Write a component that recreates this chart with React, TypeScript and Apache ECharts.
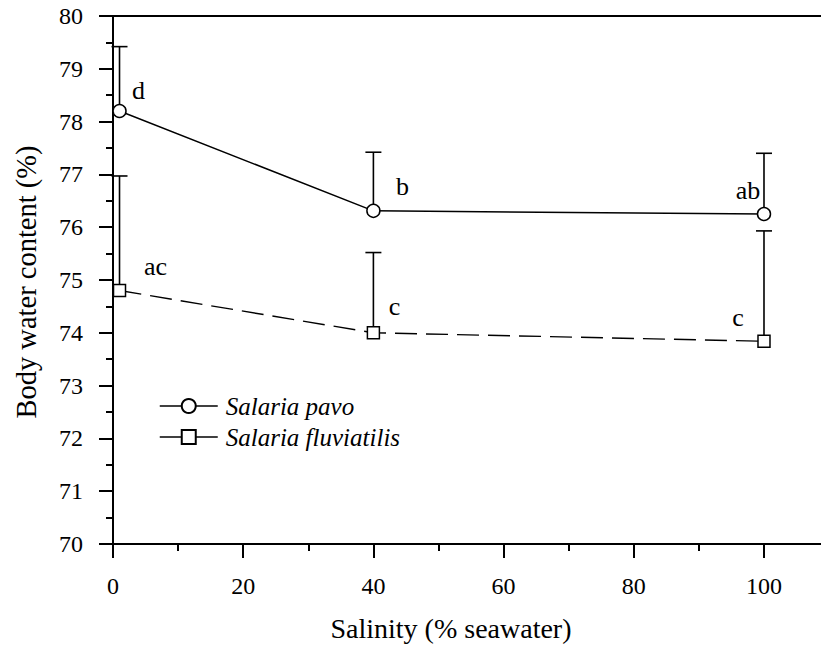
import React, { useEffect, useRef } from 'react';
import * as echarts from 'echarts';

const salinity = [1, 40, 100];
const pavoMean = [78.2, 76.31, 76.25];
const pavoUpper = [79.42, 77.42, 77.4];
const fluvMean = [74.8, 74.0, 73.84];
const fluvUpper = [76.97, 75.52, 75.93];
const pavoLetters = ['d', 'b', 'ab'];
const fluvLetters = ['ac', 'c', 'c'];
const seriesNames = ['Salaria pavo', 'Salaria fluviatilis'];
const xMajorTicks = [0, 20, 40, 60, 80, 100];
const xMinorTicks = [10, 30, 50, 70, 90];
const X_MAX = 110.6;
const xTitle = 'Salinity (% seawater)';
const yTitle = 'Body water content (%)';

const pavoOffsets = [[19, -21], [29, -24], [-16, -24]];
const fluvOffsets = [[36, -24], [21, -26], [-26, -24]];

const FONT = 'Liberation Serif, DejaVu Serif, Times New Roman, serif';

export default function App() {
  const ref = useRef<HTMLDivElement>(null);
  useEffect(() => {
    if (!ref.current) return;
    const chart = echarts.init(ref.current, undefined, { renderer: 'svg' });

    const mkLine = (means: number[], letters: string[], offsets: number[][]) =>
      salinity.map((x, i) => ({
        value: [x, means[i]],
        label: {
          show: true,
          formatter: letters[i],
          position: 'inside',
          offset: offsets[i],
          fontFamily: FONT,
          fontSize: 26,
          color: '#000',
        },
      }));

    const errData = (means: number[], upper: number[]) => salinity.map((x, i) => [x, means[i], upper[i]]);

    const errRender = (params: any, api: any) => {
      const x = api.value(0);
      const lo = api.coord([x, api.value(1)]);
      const hi = api.coord([x, api.value(2)]);
      const st = { stroke: '#000', lineWidth: 1.6 };
      return {
        type: 'group',
        children: [
          { type: 'line', shape: { x1: lo[0], y1: lo[1], x2: hi[0], y2: hi[1] }, style: st },
          { type: 'line', shape: { x1: hi[0] - 8, y1: hi[1], x2: hi[0] + 8, y2: hi[1] }, style: st },
        ],
      };
    };

    const axisLineStyle = { color: '#000', width: 2 };

    chart.setOption({
      animation: false,
      backgroundColor: '#fff',
      textStyle: { fontFamily: FONT },
      grid: {
        left: 113,
        top: 16,
        width: 720,
        bottom: 111,
        containLabel: false,
        outerBoundsMode: 'none',
      },
      legend: {
        orient: 'vertical',
        left: 154,
        top: 388.5,
        itemWidth: 58,
        itemHeight: 17.5,
        itemGap: 6,
        data: seriesNames,
        lineStyle: { type: 'solid', width: 1.5 },
        textStyle: {
          fontFamily: FONT,
          fontStyle: 'italic',
          fontSize: 25,
          lineHeight: 25,
          color: '#000',
          padding: [0, 0, 0, 3],
        },
      },
      xAxis: [
        {
          type: 'value',
          min: 0,
          max: X_MAX,
          position: 'bottom',
          axisLine: { onZero: false, lineStyle: axisLineStyle },
          axisTick: { length: 14, lineStyle: axisLineStyle, customValues: xMajorTicks },
          axisLabel: {
            margin: 30,
            fontFamily: FONT,
            fontSize: 24,
            color: '#000',
            customValues: xMajorTicks,
          },
          splitLine: { show: false },
        },
        {
          type: 'value',
          min: 0,
          max: X_MAX,
          position: 'bottom',
          axisLine: { show: false, onZero: false },
          axisTick: { length: 7, lineStyle: axisLineStyle, customValues: xMinorTicks },
          axisLabel: { show: false },
          splitLine: { show: false },
        },
        {
          type: 'value',
          min: 0,
          max: X_MAX,
          position: 'top',
          axisLine: { onZero: false, lineStyle: axisLineStyle },
          axisTick: { show: false },
          axisLabel: { show: false },
          splitLine: { show: false },
        },
      ],
      yAxis: [
        {
          type: 'value',
          min: 70,
          max: 80,
          interval: 1,
          position: 'left',
          axisLine: { show: true, onZero: false, lineStyle: axisLineStyle },
          axisTick: { show: true, length: 14, lineStyle: axisLineStyle },
          axisLabel: { margin: 30, fontFamily: FONT, fontSize: 24, color: '#000' },
          splitLine: { show: false },
        },
        {
          type: 'value',
          min: 70,
          max: 80,
          interval: 0.5,
          position: 'left',
          axisLine: { show: false, onZero: false },
          axisTick: { show: true, length: 7, lineStyle: axisLineStyle },
          axisLabel: { show: false },
          splitLine: { show: false },
        },
      ],
      graphic: [
        {
          type: 'rect',
          z: 100,
          shape: { x: 806, y: 546, width: 15, height: 20 },
          style: { fill: '#fff' },
        },
        {
          type: 'text',
          x: 451,
          y: 628,
          style: {
            text: xTitle,
            fontFamily: FONT,
            fontSize: 28,
            fill: '#000',
            align: 'center',
            verticalAlign: 'middle',
          },
        },
        {
          type: 'text',
          x: 26.5,
          y: 282,
          rotation: Math.PI / 2,
          style: {
            text: yTitle,
            fontFamily: FONT,
            fontSize: 28.5,
            fill: '#000',
            align: 'center',
            verticalAlign: 'middle',
          },
        },
      ],
      series: [
        {
          type: 'custom',
          name: 'pavoErr',
          renderItem: errRender,
          data: errData(pavoMean, pavoUpper),
          encode: { x: 0, y: [1, 2] },
          z: 1,
        },
        {
          type: 'custom',
          name: 'fluvErr',
          renderItem: errRender,
          data: errData(fluvMean, fluvUpper),
          encode: { x: 0, y: [1, 2] },
          z: 1,
        },
        {
          type: 'line',
          name: seriesNames[0],
          data: mkLine(pavoMean, pavoLetters, pavoOffsets),
          symbol: 'circle',
          symbolSize: 13,
          itemStyle: { color: '#fff', borderColor: '#000', borderWidth: 1.5 },
          lineStyle: { color: '#000', width: 1.5 },
          z: 3,
        },
        {
          type: 'line',
          name: seriesNames[1],
          data: mkLine(fluvMean, fluvLetters, fluvOffsets),
          symbol: 'rect',
          symbolSize: 12,
          itemStyle: { color: '#fff', borderColor: '#000', borderWidth: 1.5 },
          lineStyle: { color: '#000', width: 1.4, type: [22, 9] },
          z: 3,
        },
      ],
    });
    return () => chart.dispose();
  }, []);

  return (
    <div
      ref={ref}
      style={{ position: 'absolute', left: 0, top: 0, width: 821, height: 655, background: '#fff' }}
    />
  );
}
